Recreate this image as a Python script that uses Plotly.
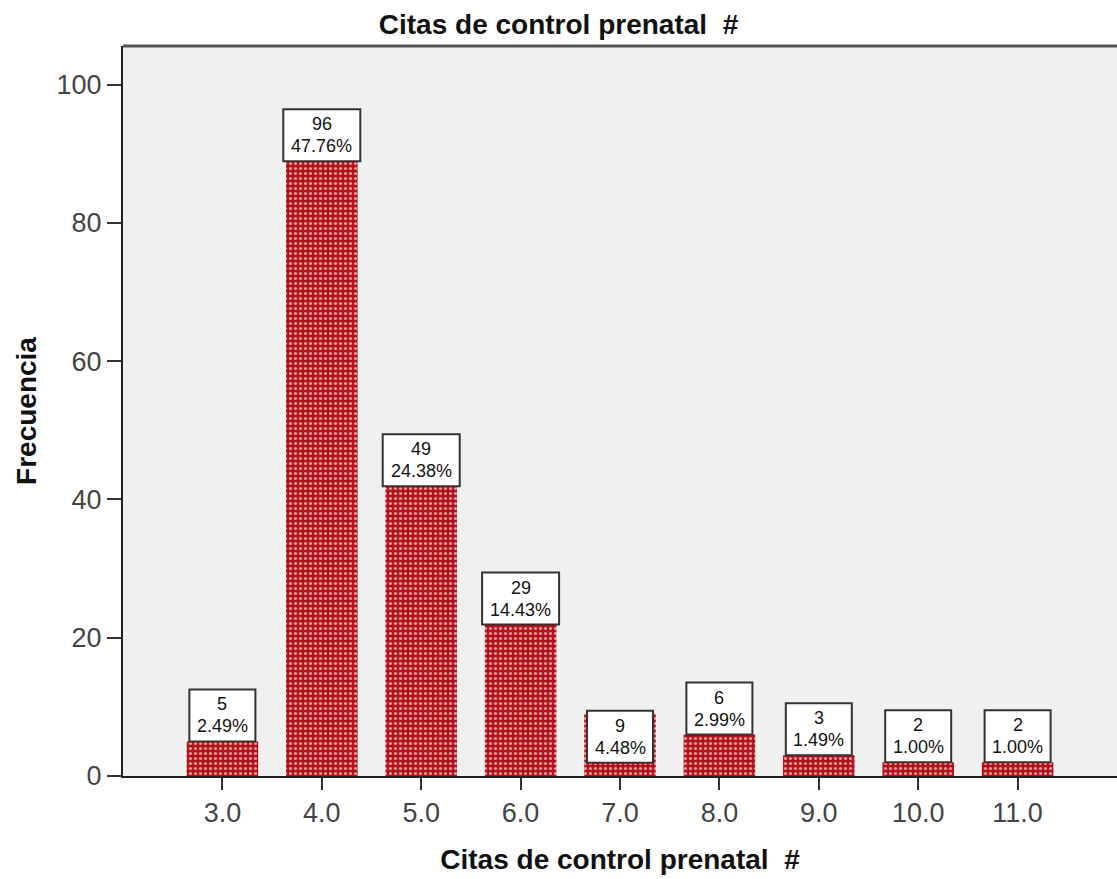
import plotly.graph_objects as go

# Frequency of prenatal control visits
categorias = ["3.0", "4.0", "5.0", "6.0", "7.0", "8.0", "9.0", "10.0", "11.0"]
frecuencias = [5, 96, 49, 29, 9, 6, 3, 2, 2]
porcentajes = ["2.49%", "47.76%", "24.38%", "14.43%", "4.48%", "2.99%", "1.49%", "1.00%", "1.00%"]

posiciones = list(range(len(categorias)))
FUENTE = "Liberation Sans, Arial, sans-serif"

fig = go.Figure()
fig.add_trace(go.Bar(
    x=posiciones,
    y=frecuencias,
    width=0.72,
    marker=dict(
        color="#b3121c",
        line=dict(width=0),
        pattern=dict(shape=".", fgcolor="#e59a9a", bgcolor="#b3121c",
                     size=5, solidity=0.3, fillmode="replace"),
    ),
    hoverinfo="skip",
    showlegend=False,
))

# Value boxes: hanging inside the top of tall bars, sitting on top of short ones
BOX_H = 52
for x, f, p in zip(posiciones, frecuencias, porcentajes):
    inside = f >= 9
    half_w = 33 + 5.5 * (len(p) - 5)
    if inside:
        top, bottom = 3, 3 - BOX_H
    else:
        top, bottom = BOX_H, 0
    fig.add_shape(
        type="rect", xref="x", yref="y",
        xsizemode="pixel", ysizemode="pixel", xanchor=x, yanchor=f,
        x0=-half_w, x1=half_w, y0=bottom, y1=top,
        fillcolor="white", line=dict(color="#333", width=2), layer="above",
    )
    for linea, off in ((str(f), 15), (p, 37)):
        fig.add_annotation(
            x=x, y=f, xref="x", yref="y", text=linea, showarrow=False,
            yanchor="middle", yshift=top - off,
            font=dict(family=FUENTE, size=18, color="#111"),
        )

fig.add_shape(type="line", xref="paper", yref="paper", x0=0, x1=1, y0=1, y1=1,
              line=dict(color="#555", width=3))

fig.update_layout(
    width=1117, height=879,
    margin=dict(l=123, r=0, t=46, b=103),
    paper_bgcolor="white",
    plot_bgcolor="#f0f0f0",
    title=dict(text="<b>Citas de control prenatal  #</b>", x=0.5, xanchor="center",
               y=0.973, yanchor="middle",
               font=dict(family=FUENTE, size=28, color="#111")),
    font=dict(family=FUENTE),
)

fig.update_xaxes(
    range=[-1, 9],
    tickvals=posiciones, ticktext=categorias,
    ticks="outside", ticklen=12, tickwidth=2, tickcolor="#333",
    showline=True, linecolor="#222", linewidth=2,
    showgrid=False, zeroline=False,
    tickfont=dict(size=27, color="#444"),
    title=dict(text="<b>Citas de control prenatal  #</b>", standoff=22,
               font=dict(size=28, color="#111")),
)
fig.update_yaxes(
    range=[0, 105.6],
    tickvals=[0, 20, 40, 60, 80, 100],
    ticks="outside", ticklen=14, tickwidth=2, tickcolor="#333",
    showline=True, linecolor="#222", linewidth=2,
    showgrid=False, zeroline=False,
    tickfont=dict(size=27, color="#444"),
    title=dict(text="<b>Frecuencia</b>", standoff=12,
               font=dict(size=28, color="#111")),
)

fig.write_html("out.html")
